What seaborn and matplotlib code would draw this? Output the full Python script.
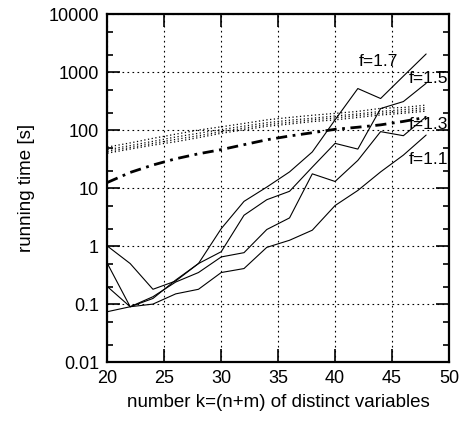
import matplotlib
matplotlib.use("Agg")
import matplotlib.pyplot as plt
import matplotlib.ticker as mticker
import seaborn as sns
import pandas as pd

# number of distinct variables
k = [20, 22, 24, 26, 28, 30, 32, 34, 36, 38, 40, 42, 44, 46, 48]

# running times [s], solid lines
f17 = [1.0, 0.5, 0.18, 0.25, 0.5, 2.0, 5.9, 10.4, 19, 42, 150, 520, 350, 850, 2050]
f15 = [0.5, 0.09, 0.125, 0.26, 0.5, 0.8, 3.4, 6.3, 8.8, 23, 59, 47, 235, 310, 640]
f13 = [0.2, 0.09, 0.134, 0.24, 0.35, 0.65, 0.77, 1.93, 3.06, 17.6, 13, 30, 94, 80, 170]
f11 = [0.074, 0.09, 0.10, 0.15, 0.18, 0.35, 0.41, 0.95, 1.26, 1.88, 5.0, 9.1, 19, 37, 82]

# dotted bundle
dot1 = [51, 60, 72, 85, 100, 114, 130, 150, 165, 180, 194, 210, 237, 245, 270]
dot2 = [46, 54, 64, 76, 88, 102, 117, 134, 148, 160, 175, 190, 210, 225, 245]
dot3 = [43, 50, 59, 69, 80, 94, 108, 124, 136, 150, 162, 178, 195, 208, 228]
dot4 = [40, 47, 55, 63, 74, 88, 101, 116, 127, 140, 150, 165, 182, 195, 212]

# dash-dot line
dashdot = [12.5, 18.6, 25, 32, 39, 46, 56, 68, 79, 90, 103, 112, 123, 141, 166]

labels = ["f=1.7", "f=1.5", "f=1.3", "f=1.1"]
label_x = [43.8, 48.2, 48.2, 48.2]
label_y = [1550, 760, 126, 31.6]

sns.set_style("white")
plt.rcParams["font.family"] = ["Liberation Sans", "DejaVu Sans"]
plt.rcParams["text.color"] = "black"
plt.rcParams["axes.labelcolor"] = "black"

fig = plt.figure(figsize=(4.59, 4.26), dpi=100)
ax = fig.add_axes([0.234, 0.150, 0.744, 0.817])

for vals in [dot1, dot2, dot3, dot4]:
    sns.lineplot(x=k, y=vals, ax=ax, color="black", lw=0.9,
                 linestyle=(0, (1, 2)))

sns.lineplot(x=k, y=dashdot, ax=ax, color="black", lw=2.0,
             linestyle=(0, (4, 2, 1, 2)))

for vals in [f17, f15, f13, f11]:
    sns.lineplot(x=k, y=vals, ax=ax, color="black", lw=0.8)

for txt, tx, ty in zip(labels, label_x, label_y):
    ax.text(tx, ty, txt, ha="center", va="center", fontsize=12.5, color="black")

ax.set_yscale("log")
ax.set_xlim(20, 50)
ax.set_ylim(0.01, 10000)
ax.xaxis.set_major_locator(mticker.MultipleLocator(5))
ax.yaxis.set_major_locator(mticker.LogLocator(base=10, numticks=10))
ax.yaxis.set_minor_locator(mticker.LogLocator(base=10, subs=(2, 5), numticks=10))
ax.yaxis.set_minor_formatter(mticker.NullFormatter())
ax.yaxis.set_major_formatter(mticker.FuncFormatter(lambda v, p: f"{v:g}"))

ax.grid(True, which="major", color="black", lw=0.8, linestyle=(0, (1.5, 3)))
ax.tick_params(which="both", direction="in", top=True, right=True,
               bottom=True, left=True, color="black", labelcolor="black",
               labelsize=13, pad=6)
ax.tick_params(which="major", length=9.5, width=1.2)
ax.tick_params(which="minor", length=4.5, width=1.2)
for s in ax.spines.values():
    s.set_color("black")
    s.set_linewidth(1.6)

ax.set_xlabel("number k=(n+m) of distinct variables", fontsize=13.5, labelpad=5)
ax.set_ylabel("running time [s]", fontsize=13.5, labelpad=10)

fig.savefig("out.png", dpi=100)
